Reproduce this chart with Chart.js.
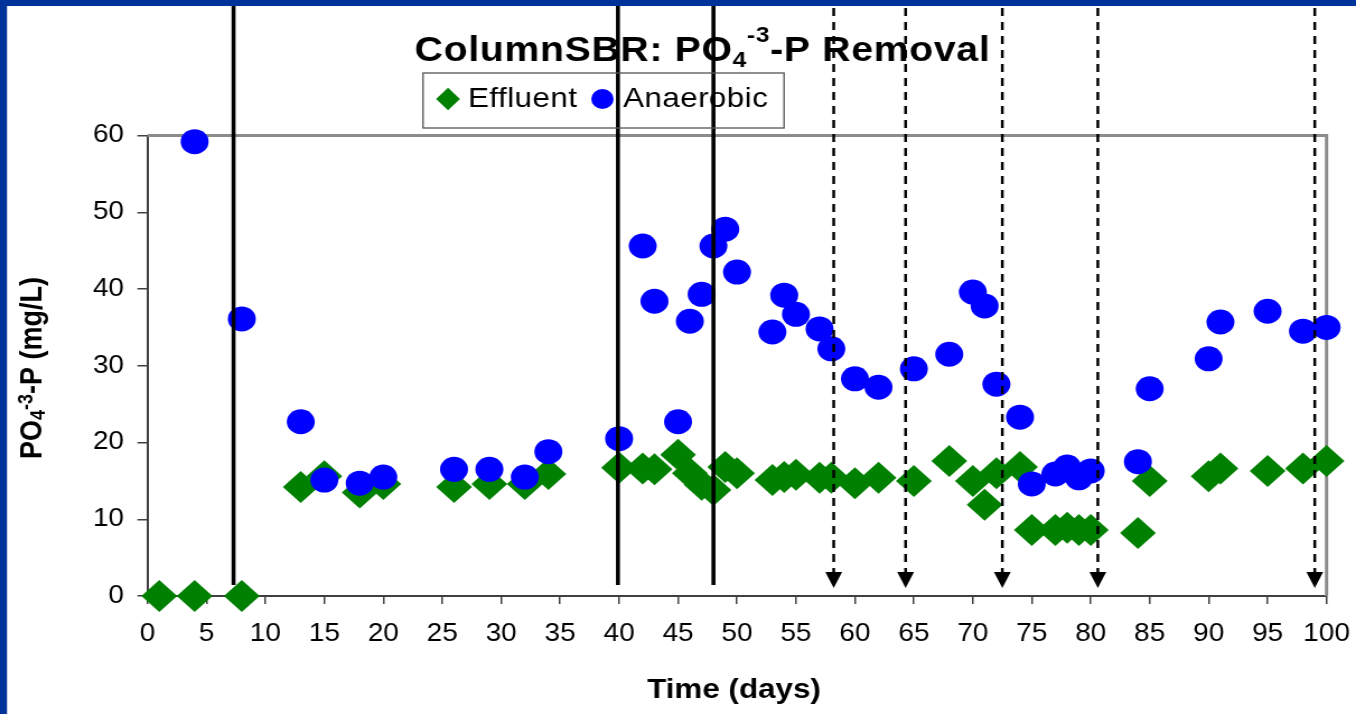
<!DOCTYPE html>
<html>
<head>
<meta charset="utf-8">
<title>ColumnSBR: PO4-3-P Removal</title>
<script src="https://cdn.jsdelivr.net/npm/chart.js@4.4.1/dist/chart.umd.min.js"></script>
<style>
  html, body { margin: 0; padding: 0; background: #fff; overflow: hidden; }
  canvas { display: block; }
</style>
</head>
<body>
<!-- the original picture is stretched sideways, so the canvas is drawn narrower and widened by CSS -->
<canvas id="chart" width="1211" height="714" style="width:1356px;height:714px"></canvas>
<script>
// ── Data ──────────────────────────────────────────────────────
const effluentDays = [1, 4, 8, 13, 15, 18, 20, 26, 29, 32, 34, 40, 42, 43, 45, 46, 47, 48, 49, 50,
                      53, 54, 55, 57, 58, 60, 62, 65, 68, 70, 71, 72, 74, 75, 77, 78, 79, 80, 84, 85,
                      90, 91, 95, 98, 100];
const effluentP    = [0, 0, 0, 14.2, 15.6, 13.5, 14.6, 14.2, 14.6, 14.6, 15.9, 16.7, 16.6, 16.5, 18.4, 16.0, 14.5, 13.8, 16.8, 16.0,
                      15.1, 15.5, 15.8, 15.4, 15.4, 14.7, 15.4, 15.0, 17.6, 15.0, 11.9, 16.0, 16.8, 8.6, 8.6, 8.9, 8.6, 8.6, 8.2, 15.0,
                      15.6, 16.6, 16.3, 16.6, 17.6];

const anaerobicDays = [4, 8, 13, 15, 18, 20, 26, 29, 32, 34, 40, 42, 43, 45, 46, 47, 48, 49, 50,
                       53, 54, 55, 57, 58, 60, 62, 65, 68, 70, 71, 72, 74, 75, 77, 78, 79, 80, 84, 85,
                       90, 91, 95, 98, 100];
const anaerobicP    = [59.2, 36.1, 22.7, 15.1, 14.7, 15.5, 16.5, 16.5, 15.5, 18.8, 20.5, 45.6, 38.4, 22.7, 35.8, 39.3, 45.6, 47.8, 42.2,
                       34.4, 39.2, 36.7, 34.8, 32.2, 28.3, 27.2, 29.6, 31.5, 39.6, 37.8, 27.6, 23.3, 14.6, 15.9, 16.8, 15.4, 16.3, 17.5, 27.0,
                       30.9, 35.7, 37.1, 34.5, 35.0];

// vertical markers (days)
const phaseLines  = [7.3, 39.9, 48.0];               // solid
const dosingLines = [58.2, 64.3, 72.5, 80.6, 99.0];  // dashed, with arrow

const seriesNames = ['Effluent', 'Anaerobic'];

// ── Look ──────────────────────────────────────────────────────
const FONT  = '"Liberation Sans", Arial, Helvetica, sans-serif';
const GREEN = '#008000';
const BLUE  = '#0000FF';
const FRAME = '#003399';

function toPoints(xs, ys) {
  return xs.map((x, i) => ({ x, y: ys[i] }));
}

// text with sub/superscript pieces
function richWidth(ctx, parts) {
  let w = 0;
  parts.forEach(p => { ctx.font = p.font; w += ctx.measureText(p.text).width; });
  return w;
}
function drawRich(ctx, parts, x, y) {
  parts.forEach(p => {
    ctx.font = p.font;
    ctx.fillText(p.text, x, y + (p.dy || 0));
    x += ctx.measureText(p.text).width;
  });
}

// ── Decorations plugin ───────────────────────────────────────
const decor = {
  id: 'decor',
  beforeDatasetsDraw(chart) {
    const { ctx, chartArea: a } = chart;
    ctx.save();
    ctx.strokeStyle = '#8c8c8c';
    ctx.lineWidth = 3;
    ctx.beginPath();
    ctx.moveTo(a.left, a.top);
    ctx.lineTo(a.right, a.top);
    ctx.lineTo(a.right, a.bottom);
    ctx.stroke();
    ctx.restore();
  },
  afterDatasetsDraw(chart) {
    const { ctx } = chart;
    const xs = chart.scales.x;
    ctx.save();
    ctx.strokeStyle = '#000';
    ctx.fillStyle = '#000';

    ctx.lineWidth = 3.6;
    phaseLines.forEach(d => {
      const px = xs.getPixelForValue(d);
      ctx.beginPath();
      ctx.moveTo(px, 6);
      ctx.lineTo(px, 585);
      ctx.stroke();
    });

    ctx.lineWidth = 2.5;
    dosingLines.forEach(d => {
      const px = xs.getPixelForValue(d);
      ctx.setLineDash([8, 6]);
      ctx.beginPath();
      ctx.moveTo(px, 8);
      ctx.lineTo(px, 573);
      ctx.stroke();
      ctx.setLineDash([]);
      ctx.beginPath();
      ctx.moveTo(px - 7.5, 572);
      ctx.lineTo(px + 7.5, 572);
      ctx.lineTo(px, 588);
      ctx.closePath();
      ctx.fill();
    });
    ctx.restore();
  },
  afterDraw(chart) {
    const { ctx } = chart;
    ctx.save();
    ctx.fillStyle = '#000';
    ctx.textBaseline = 'alphabetic';
    ctx.textAlign = 'left';

    // title
    ctx.letterSpacing = '0.6px';
    const title = [
      { text: 'ColumnSBR: PO', font: `bold 35px ${FONT}` },
      { text: '4', font: `bold 22px ${FONT}`, dy: 6 },
      { text: '-3', font: `bold 22px ${FONT}`, dy: -19 },
      { text: '-P Removal', font: `bold 35px ${FONT}` },
    ];
    drawRich(ctx, title, 627.4 - richWidth(ctx, title) / 2, 61);
    ctx.letterSpacing = '0px';

    // legend
    ctx.strokeStyle = '#555';
    ctx.lineWidth = 1.3;
    ctx.strokeRect(377.8, 73, 322.4, 55);
    ctx.fillStyle = GREEN;
    ctx.beginPath();
    ctx.moveTo(400.1 - 10.7, 99);
    ctx.lineTo(400.1, 99 - 11.3);
    ctx.lineTo(400.1 + 10.7, 99);
    ctx.lineTo(400.1, 99 + 11.3);
    ctx.closePath();
    ctx.fill();
    ctx.fillStyle = BLUE;
    ctx.beginPath();
    ctx.arc(538, 99, 10, 0, Math.PI * 2);
    ctx.fill();
    ctx.fillStyle = '#000';
    ctx.font = `28px ${FONT}`;
    ctx.letterSpacing = '0.4px';
    ctx.fillText(seriesNames[0], 418, 107);
    ctx.fillText(seriesNames[1], 556.4, 107);
    ctx.letterSpacing = '0px';

    // x axis title
    ctx.font = `bold 28px ${FONT}`;
    ctx.textAlign = 'center';
    ctx.fillText('Time (days)', 655.5, 698);
    ctx.textAlign = 'left';

    // y axis title (rotated)
    const ylab = [
      { text: 'PO', font: `bold 27px ${FONT}` },
      { text: '4', font: `bold 18px ${FONT}`, dy: 3 },
      { text: '-3', font: `bold 18px ${FONT}`, dy: -8 },
      { text: '-P (mg/L)', font: `bold 27px ${FONT}` },
    ];
    ctx.save();
    ctx.translate(36.5, 368);
    ctx.rotate(-Math.PI / 2);
    drawRich(ctx, ylab, -richWidth(ctx, ylab) / 2, 0);
    ctx.restore();

    // blue frame (top and left)
    ctx.fillStyle = FRAME;
    ctx.fillRect(0, 0, chart.width, 6);
    ctx.fillRect(0, 0, 6.25, chart.height);
    ctx.restore();
  }
};

// ── Chart ────────────────────────────────────────────────────
new Chart(document.getElementById('chart'), {
  type: 'scatter',
  data: {
    datasets: [
      {
        label: seriesNames[1],
        data: toPoints(anaerobicDays, anaerobicP),
        pointStyle: 'circle',
        pointRadius: 12.5,
        backgroundColor: BLUE,
        borderWidth: 0,
        clip: false,
        order: 0,
      },
      {
        label: seriesNames[0],
        data: toPoints(effluentDays, effluentP),
        pointStyle: 'rectRot',
        pointRadius: 16,
        backgroundColor: GREEN,
        borderWidth: 0,
        clip: false,
        order: 1,
      },
    ],
  },
  options: {
    responsive: false,
    devicePixelRatio: 1,
    animation: false,
    events: [],
    layout: { padding: { left: 0, top: 135.5, right: 26.3, bottom: 0 } },
    plugins: {
      legend: { display: false },
      title: { display: false },
      tooltip: { enabled: false },
    },
    scales: {
      x: {
        type: 'linear',
        min: 0,
        max: 100,
        afterFit: s => { s.height = 118; },
        ticks: {
          stepSize: 5,
          color: '#000',
          padding: 0,
          maxRotation: 0,
          autoSkip: false,
          // tall line height pushes the labels down without widening the side padding
          font: { family: FONT, size: 25, lineHeight: 2.4 },
        },
        grid: { drawOnChartArea: false, drawTicks: true, tickLength: 8, color: '#404040', lineWidth: 1.5 },
        border: { display: true, color: '#404040', width: 2 },
      },
      y: {
        type: 'linear',
        min: 0,
        max: 60,
        afterFit: s => { s.width = 131.7; },
        ticks: {
          stepSize: 10,
          color: '#000',
          padding: 12,
          font: { family: FONT, size: 25 },
        },
        grid: { drawOnChartArea: false, drawTicks: true, tickLength: 9, color: '#404040', lineWidth: 1.5 },
        border: { display: true, color: '#404040', width: 2 },
      },
    },
  },
  plugins: [decor],
});
</script>
</body>
</html>
